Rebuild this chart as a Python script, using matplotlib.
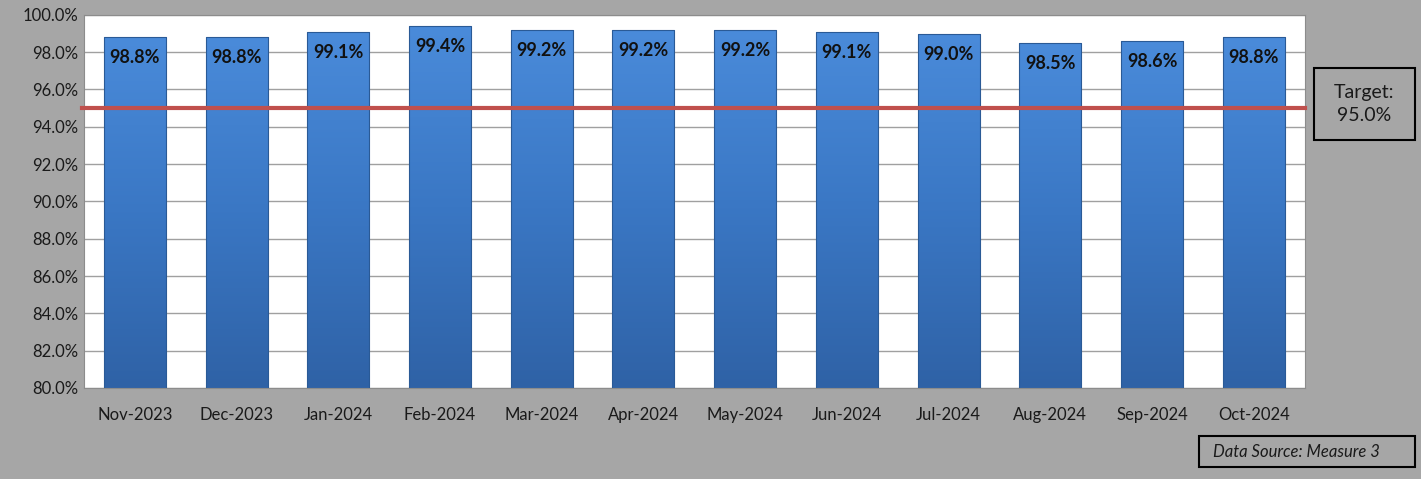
import matplotlib.pyplot as plt
import numpy as np
from matplotlib.colors import LinearSegmentedColormap
from matplotlib.patches import Rectangle

# chart data
months = ['Nov-2023', 'Dec-2023', 'Jan-2024', 'Feb-2024', 'Mar-2024', 'Apr-2024',
          'May-2024', 'Jun-2024', 'Jul-2024', 'Aug-2024', 'Sep-2024', 'Oct-2024']
values = [98.8, 98.8, 99.1, 99.4, 99.2, 99.2, 99.2, 99.1, 99.0, 98.5, 98.6, 98.8]
target = 95.0

plt.rcParams['font.family'] = ['Lato', 'DejaVu Sans']

bg = '#a6a6a6'
W, H = 1421, 479
fig = plt.figure(figsize=(W / 100, H / 100), dpi=100, facecolor=bg)
ax = fig.add_axes([0.0591, 0.19, 0.859, 0.779])
ax.set_facecolor('white')

x = np.arange(len(months))
bars = ax.bar(x, values, width=0.61, color='none', edgecolor='#2a5a96', linewidth=0.8, zorder=3)

# gradient fill for each bar, light at top to darker at bottom
cmap = LinearSegmentedColormap.from_list('blues', ['#2f62a6', '#3a77c4', '#4a8bda'])
grad = np.linspace(0, 1, 256).reshape(-1, 1)
for b in bars:
    x0, w, h = b.get_x(), b.get_width(), b.get_height()
    im = ax.imshow(grad, cmap=cmap, origin='lower', aspect='auto',
                   extent=(x0, x0 + w, 80, h), zorder=2)
    im.set_clip_path(b)

ax.set_xlim(-0.5, len(months) - 0.5)
ax.set_ylim(80, 100)
ax.set_yticks(np.arange(80, 100.1, 2))
ax.set_yticklabels([f'{v:.1f}%' for v in np.arange(80, 100.1, 2)])
ax.set_xticks(x)
ax.set_xticklabels(months)
ax.tick_params(axis='both', length=0, labelsize=12, colors='#1a1a1a')
ax.tick_params(axis='x', pad=14)
ax.tick_params(axis='y', pad=4)
ax.grid(axis='y', color='#a0a0a0', linewidth=1, zorder=0)
for s in ax.spines.values():
    s.set_color('#8c8c8c')

# target line
ax.axhline(target, color='#c0504d', linewidth=3, zorder=4, xmin=-0.002, clip_on=False)

# value labels
for xi, v in zip(x, values):
    ax.text(xi, v - 1.1, f'{v:.1f}%', ha='center', va='center', fontsize=13,
            fontweight='bold', color='#111111', zorder=5)

# boxes, in pixel positions of the figure
def box(x0, y0, x1, y1):
    fig.add_artist(Rectangle((x0 / W, 1 - y1 / H), (x1 - x0) / W, (y1 - y0) / H,
                             transform=fig.transFigure, facecolor='none',
                             edgecolor='black', linewidth=1.5))

box(1314, 68, 1415, 140)
fig.text((1314 + 1415) / 2 / W, 1 - 104 / H, f'Target:\n{target:.1f}%', ha='center',
         va='center', fontsize=14, color='#1a1a1a', linespacing=1.45)

box(1199, 436, 1415, 467)
fig.text(1213 / W, 1 - 452 / H, 'Data Source: Measure 3', ha='left',
         va='center', fontsize=12, style='italic', color='#1a1a1a')

fig.savefig('out.png', dpi=100, facecolor=bg)
